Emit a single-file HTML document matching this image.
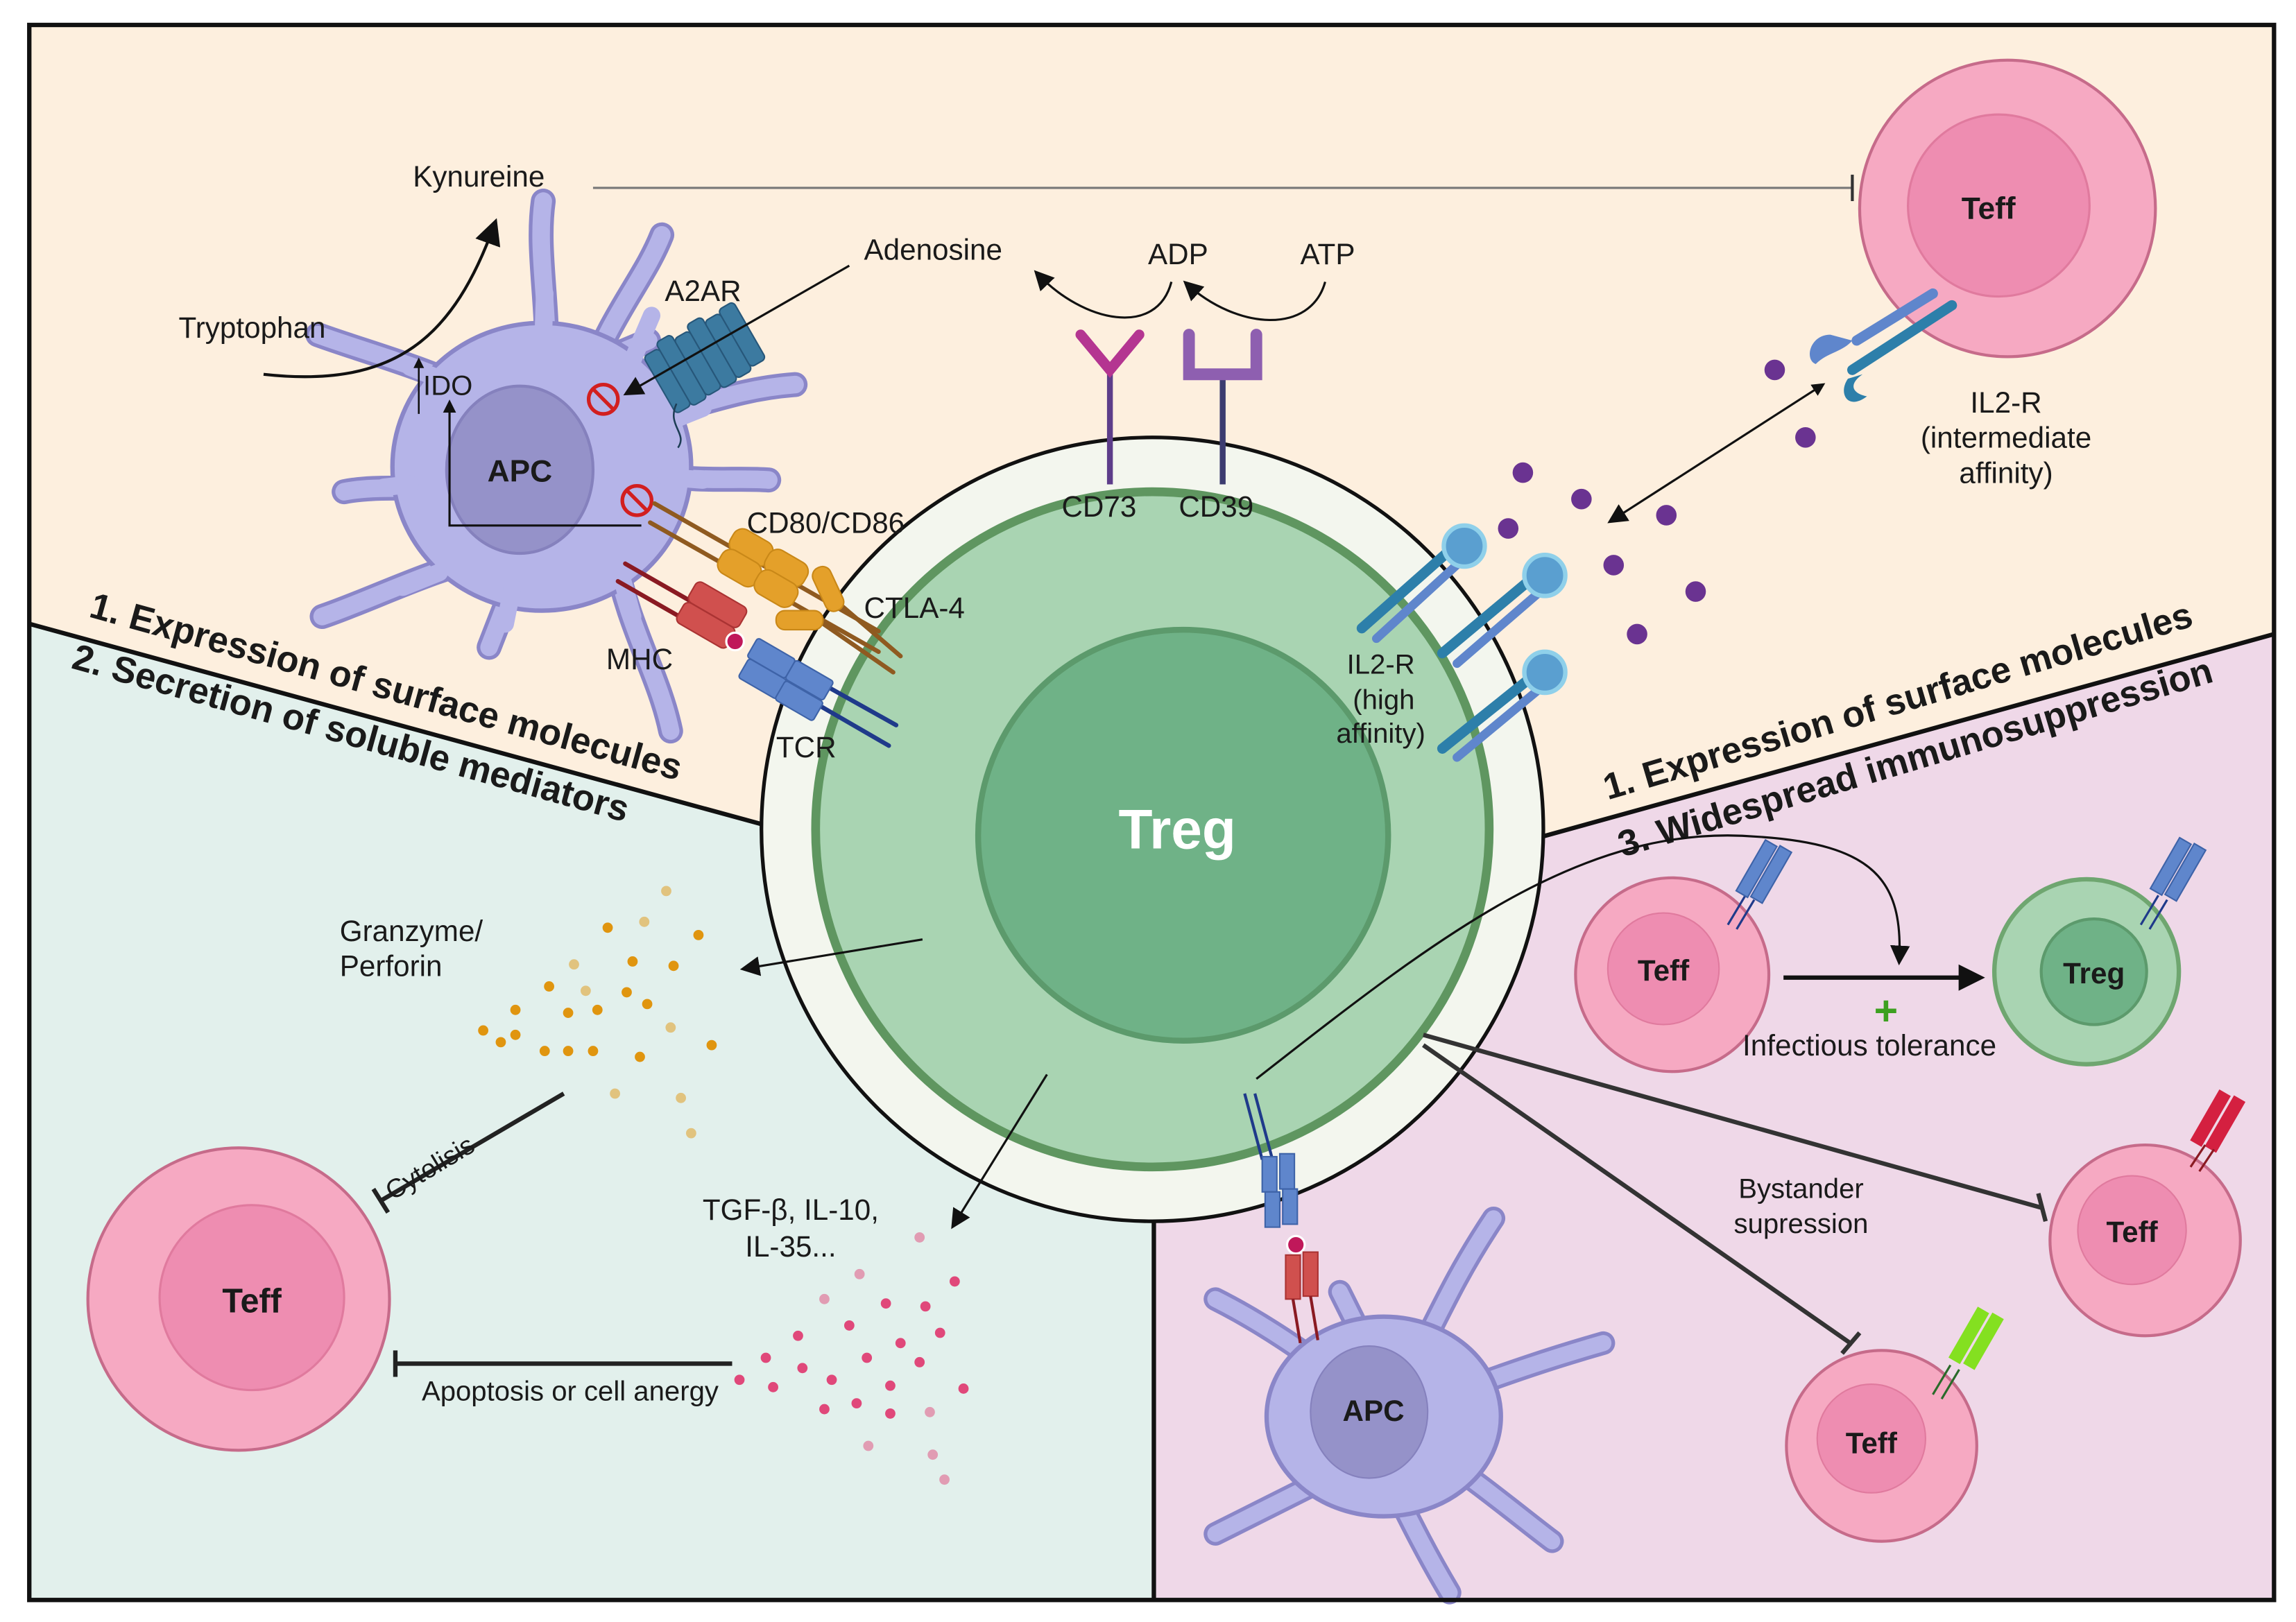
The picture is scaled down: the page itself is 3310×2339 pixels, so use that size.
<!DOCTYPE html>
<html><head><meta charset="utf-8"><style>
html,body{margin:0;padding:0;background:#fff;}
svg{display:block;}
text{font-family:"Liberation Sans",sans-serif;fill:#1a1a1a;}
.b{font-weight:bold;}
</style></head><body>
<svg width="3310" height="2339" viewBox="0 0 1568 1105" preserveAspectRatio="none" xmlns="http://www.w3.org/2000/svg">
<defs>
<marker id="ah" viewBox="0 0 10 10" refX="8" refY="5" markerWidth="6" markerHeight="6" orient="auto-start-reverse"><path d="M0,0 L10,5 L0,10 z" fill="#111"/></marker>
<marker id="ahs" viewBox="0 0 10 10" refX="8" refY="5" markerWidth="9" markerHeight="9" orient="auto-start-reverse"><path d="M0,0 L10,5 L0,10 z" fill="#111"/></marker>
</defs>
<rect width="1568" height="1105" fill="#fff"/>
<rect x="20" y="17" width="1533" height="1073" fill="#fdefde"/>
<polygon points="20,425 522,562 788,815 788,1090 20,1090" fill="#e2f0ec"/>
<polygon points="1553,432 1053,570 788,815 788,1090 1553,1090" fill="#efd8e8"/>
<line x1="20" y1="425" x2="522" y2="562" stroke="#111" stroke-width="3"/>
<line x1="1553" y1="432" x2="1053" y2="570" stroke="#111" stroke-width="3"/>
<line x1="788" y1="815" x2="788" y2="1090" stroke="#111" stroke-width="3"/>

<!-- APC 1 -->
<g stroke-linecap="round" fill="none">
<g stroke="#8a86c8" stroke-width="17">
<path d="M370,300 C380,220 365,180 371,137 M400,260 C420,210 440,190 452,160 M420,290 C470,280 500,265 543,262 M440,320 C470,330 500,325 525,327 M330,270 C290,250 250,240 217,228 M320,330 C290,335 260,330 235,335 M330,380 C290,390 250,410 220,420 M350,400 L334,441 M420,380 C430,430 450,460 458,498 M400,250 L443,232"/>
</g>
<g stroke="#b5b4e8" stroke-width="12">
<path d="M370,300 C380,220 365,180 371,137 M400,260 C420,210 440,190 452,160 M420,290 C470,280 500,265 543,262 M440,320 C470,330 500,325 525,327 M330,270 C290,250 250,240 217,228 M320,330 C290,335 260,330 235,335 M330,380 C290,390 250,410 220,420 M350,400 L334,441 M420,380 C430,430 450,460 458,498 M400,250 L443,232"/>
</g>
</g>
<ellipse cx="370" cy="318" rx="102" ry="98" fill="#b5b4e8" stroke="#8a86c8" stroke-width="3"/>
<g stroke="#b5b4e8" stroke-width="12" stroke-linecap="round" fill="none"><path d="M370,260 L372,200 M430,250 L445,215 M450,290 L480,278 M455,325 L480,327 M310,262 L280,250 M280,330 L262,332 M300,390 L275,400 M350,400 L345,425 M425,395 L432,420"/></g>
<ellipse cx="355" cy="320" rx="50" ry="57" fill="#9592c9" stroke="#8581bd" stroke-width="2"/>
<text x="355" y="328" font-size="21" text-anchor="middle" class="b">APC</text>

<text x="282" y="127" font-size="20">Kynureine</text>
<line x1="405" y1="128" x2="1265" y2="128" stroke="#777" stroke-width="1.5"/>
<line x1="1265" y1="119" x2="1265" y2="137" stroke="#333" stroke-width="2"/>
<text x="122" y="230" font-size="20">Tryptophan</text>
<path d="M180,255 C270,265 310,230 338,152" fill="none" stroke="#111" stroke-width="2" marker-end="url(#ahs)"/>
<text x="289" y="269" font-size="19">IDO</text>
<line x1="286" y1="282" x2="286" y2="245" stroke="#111" stroke-width="1.2" marker-end="url(#ah)"/>
<path d="M438,358 L307,358 L307,274" fill="none" stroke="#111" stroke-width="1.5" marker-end="url(#ah)"/>
<circle cx="412" cy="272" r="10" fill="none" stroke="#d21f1f" stroke-width="2.5"/><line x1="405" y1="265" x2="419" y2="279" stroke="#d21f1f" stroke-width="2.5"/>
<circle cx="435" cy="341" r="10" fill="none" stroke="#d21f1f" stroke-width="2.5"/><line x1="428" y1="334" x2="442" y2="348" stroke="#d21f1f" stroke-width="2.5"/>

<text x="454" y="205" font-size="20">A2AR</text>
<g transform="rotate(-30 482 245)" fill="#3c7aa0" stroke="#27577a" stroke-width="1">
<rect x="446" y="222" width="12" height="45" rx="3"/><rect x="458" y="218" width="12" height="50" rx="3"/><rect x="470" y="222" width="12" height="45" rx="3"/><rect x="482" y="218" width="12" height="50" rx="3"/><rect x="494" y="222" width="12" height="45" rx="3"/><rect x="506" y="220" width="12" height="45" rx="3"/>
</g>
<path d="M462,275 C455,290 470,295 463,305" fill="none" stroke="#1d3d55" stroke-width="1.2"/>
<text x="590" y="177" font-size="20">Adenosine</text>
<line x1="580" y1="181" x2="428" y2="268" stroke="#111" stroke-width="1.5" marker-end="url(#ahs)"/>

<circle cx="787" cy="565" r="267" fill="#f3f6ee" stroke="#111" stroke-width="2.5"/>
<circle cx="787" cy="565" r="230" fill="#a9d4b2" stroke="#5f9660" stroke-width="6"/>
<circle cx="808" cy="569" r="140" fill="#6fb287" stroke="#5c9a6c" stroke-width="4"/>
<text x="804" y="578" font-size="38" text-anchor="middle" class="b" style="fill:#fff">Treg</text>

<g stroke-linecap="round">
<line x1="447" y1="343" x2="600" y2="430" stroke="#8f5a20" stroke-width="3"/>
<line x1="444" y1="356" x2="600" y2="444" stroke="#8f5a20" stroke-width="3"/>
<line x1="560" y1="400" x2="615" y2="447" stroke="#8f5a20" stroke-width="3"/>
<line x1="555" y1="420" x2="610" y2="458" stroke="#8f5a20" stroke-width="3"/>
<line x1="427" y1="384" x2="490" y2="420" stroke="#8a1a22" stroke-width="3"/>
<line x1="422" y1="396" x2="485" y2="432" stroke="#8a1a22" stroke-width="3"/>
<line x1="560" y1="465" x2="612" y2="494" stroke="#1f3a8a" stroke-width="3"/>
<line x1="555" y1="478" x2="607" y2="508" stroke="#1f3a8a" stroke-width="3"/>
</g>
<g fill="#e4a02a" stroke="#c98818">
<rect x="498" y="364" width="30" height="18" rx="7" transform="rotate(30 513 373)"/>
<rect x="522" y="378" width="30" height="18" rx="7" transform="rotate(30 537 387)"/>
<rect x="490" y="378" width="30" height="18" rx="7" transform="rotate(30 505 387)"/>
<rect x="515" y="392" width="30" height="18" rx="7" transform="rotate(30 530 401)"/>
<rect x="550" y="395" width="32" height="13" rx="6" transform="rotate(65 566 401)"/>
<rect x="530" y="416" width="32" height="13" rx="6"/>
</g>
<g fill="#d0504e" stroke="#a33">
<rect x="470" y="404" width="40" height="16" rx="4" transform="rotate(30 490 412)"/>
<rect x="462" y="418" width="40" height="16" rx="4" transform="rotate(30 482 426)"/>
</g>
<circle cx="502" cy="437" r="6" fill="#c0185a" stroke="#fff" stroke-width="1.5"/>
<g fill="#5f86cc" stroke="#3e63a8">
<rect x="512" y="441" width="30" height="15" rx="2" transform="rotate(30 527 448)"/>
<rect x="538" y="456" width="30" height="15" rx="2" transform="rotate(30 553 463)"/>
<rect x="506" y="455" width="30" height="15" rx="2" transform="rotate(30 521 462)"/>
<rect x="531" y="470" width="30" height="15" rx="2" transform="rotate(30 546 477)"/>
</g>
<text x="510" y="363" font-size="20">CD80/CD86</text>
<text x="590" y="421" font-size="20">CTLA-4</text>
<text x="414" y="456" font-size="20">MHC</text>
<text x="530" y="516" font-size="20">TCR</text>

<line x1="758" y1="250" x2="758" y2="330" stroke="#5d3d8a" stroke-width="4"/>
<path d="M738,228 L758,252 L778,228" fill="none" stroke="#b43591" stroke-width="7" stroke-linecap="round"/>
<line x1="835" y1="255" x2="835" y2="330" stroke="#3c3c70" stroke-width="4"/>
<path d="M812,228 L812,255 L858,255 L858,228" fill="none" stroke="#8e5fb0" stroke-width="8" stroke-linecap="round"/>
<text x="725" y="352" font-size="20">CD73</text>
<text x="805" y="352" font-size="20">CD39</text>
<text x="784" y="180" font-size="20">ADP</text>
<text x="888" y="180" font-size="20">ATP</text>
<path d="M800,192 C790,230 740,220 708,186" fill="none" stroke="#111" stroke-width="1.5" marker-end="url(#ahs)"/>
<path d="M905,192 C895,228 845,225 810,193" fill="none" stroke="#111" stroke-width="1.5" marker-end="url(#ahs)"/>

<circle cx="1371" cy="142" r="101" fill="#f6a9c2" stroke="#c66b8a" stroke-width="2"/>
<circle cx="1365" cy="140" r="62" fill="#ee8db1" stroke="#e07a9e" stroke-width="1.5"/>
<text x="1358" y="149" font-size="21" text-anchor="middle" class="b">Teff</text>
<line x1="1268" y1="232" x2="1320" y2="200" stroke="#5f86cc" stroke-width="7" stroke-linecap="round"/>
<line x1="1265" y1="252" x2="1333" y2="208" stroke="#2d7faa" stroke-width="7" stroke-linecap="round"/>
<path d="M1250,228 C1236,228 1232,245 1240,248 C1248,240 1258,240 1265,232 z" fill="#5f86cc"/>
<path d="M1262,258 C1255,268 1262,280 1275,270 C1265,268 1262,262 1272,255 z" fill="#2d7faa"/>
<text x="1370" y="281" font-size="20" text-anchor="middle">IL2-R</text>
<text x="1370" y="305" font-size="20" text-anchor="middle">(intermediate</text>
<text x="1370" y="329" font-size="20" text-anchor="middle">affinity)</text>
<line x1="1245" y1="262" x2="1100" y2="355" stroke="#111" stroke-width="1.5" marker-start="url(#ah)" marker-end="url(#ahs)"/>
<g fill="#6a3391">
<circle cx="1212" cy="252" r="7"/><circle cx="1233" cy="298" r="7"/><circle cx="1040" cy="322" r="7"/><circle cx="1080" cy="340" r="7"/><circle cx="1138" cy="351" r="7"/><circle cx="1030" cy="360" r="7"/><circle cx="1102" cy="385" r="7"/><circle cx="1158" cy="403" r="7"/><circle cx="1118" cy="432" r="7"/>
</g>
<g stroke-linecap="round">
<g><line x1="930" y1="428" x2="990" y2="375" stroke="#2d7faa" stroke-width="7"/><line x1="940" y1="435" x2="998" y2="382" stroke="#5f86cc" stroke-width="6"/><circle cx="1000" cy="372" r="14" fill="#5a9fd0" stroke="#8fd0ea" stroke-width="3"/></g>
<g><line x1="985" y1="445" x2="1045" y2="395" stroke="#2d7faa" stroke-width="7"/><line x1="995" y1="452" x2="1053" y2="402" stroke="#5f86cc" stroke-width="6"/><circle cx="1055" cy="392" r="14" fill="#5a9fd0" stroke="#8fd0ea" stroke-width="3"/></g>
<g><line x1="985" y1="510" x2="1045" y2="462" stroke="#2d7faa" stroke-width="7"/><line x1="995" y1="516" x2="1053" y2="468" stroke="#5f86cc" stroke-width="6"/><circle cx="1055" cy="458" r="14" fill="#5a9fd0" stroke="#8fd0ea" stroke-width="3"/></g>
</g>
<text x="943" y="459" font-size="19" text-anchor="middle">IL2-R</text>
<text x="945" y="483" font-size="19" text-anchor="middle">(high</text>
<text x="943" y="506" font-size="19" text-anchor="middle">affinity)</text>

<text transform="translate(60,420) rotate(15.5)" font-size="25" class="b">1.  Expression of surface molecules</text>
<text transform="translate(48,455) rotate(15.5)" font-size="25" class="b">2. Secretion of soluble mediators</text>
<text transform="translate(1098,545) rotate(-16.5)" font-size="25" class="b">1.  Expression of surface molecules</text>
<text transform="translate(1108,584) rotate(-16.5)" font-size="25" class="b">3. Widespread immunosuppression</text>

<text x="232" y="641" font-size="20">Granzyme/</text>
<text x="232" y="665" font-size="20">Perforin</text>
<line x1="630" y1="640" x2="508" y2="660" stroke="#111" stroke-width="1.5" marker-end="url(#ahs)"/>
<g fill="#e0950f">
<circle cx="455" cy="607" r="3.5" opacity=".5"/><circle cx="415" cy="632" r="3.5"/><circle cx="440" cy="628" r="3.5" opacity=".5"/><circle cx="477" cy="637" r="3.5"/><circle cx="392" cy="657" r="3.5" opacity=".5"/><circle cx="432" cy="655" r="3.5"/><circle cx="460" cy="658" r="3.5"/><circle cx="375" cy="672" r="3.5"/><circle cx="400" cy="675" r="3.5" opacity=".5"/><circle cx="428" cy="676" r="3.5"/><circle cx="352" cy="688" r="3.5"/><circle cx="388" cy="690" r="3.5"/><circle cx="408" cy="688" r="3.5"/><circle cx="442" cy="684" r="3.5"/><circle cx="330" cy="702" r="3.5"/><circle cx="352" cy="705" r="3.5"/><circle cx="372" cy="716" r="3.5"/><circle cx="388" cy="716" r="3.5"/><circle cx="405" cy="716" r="3.5"/><circle cx="437" cy="720" r="3.5"/><circle cx="486" cy="712" r="3.5"/><circle cx="458" cy="700" r="3.5" opacity=".5"/><circle cx="420" cy="745" r="3.5" opacity=".5"/><circle cx="465" cy="748" r="3.5" opacity=".5"/><circle cx="472" cy="772" r="3.5" opacity=".5"/><circle cx="342" cy="710" r="3.5"/>
</g>
<circle cx="163" cy="885" r="103" fill="#f6a9c2" stroke="#c66b8a" stroke-width="2"/>
<circle cx="172" cy="884" r="63" fill="#ee8db1" stroke="#e07a9e" stroke-width="1.5"/>
<text x="172" y="894" font-size="23" text-anchor="middle" class="b">Teff</text>
<line x1="385" y1="745" x2="260" y2="818" stroke="#222" stroke-width="3"/>
<line x1="255" y1="810" x2="265" y2="826" stroke="#222" stroke-width="3"/>
<text transform="translate(268,818) rotate(-31)" font-size="18">Cytolisis</text>
<text x="540" y="831" font-size="20" text-anchor="middle">TGF-β, IL-10,</text>
<text x="540" y="856" font-size="20" text-anchor="middle">IL-35...</text>
<line x1="715" y1="732" x2="651" y2="835" stroke="#111" stroke-width="1.5" marker-end="url(#ahs)"/>
<g fill="#e0487a">
<circle cx="628" cy="843" r="3.5" opacity=".5"/><circle cx="587" cy="868" r="3.5" opacity=".5"/><circle cx="652" cy="873" r="3.5"/><circle cx="563" cy="885" r="3.5" opacity=".5"/><circle cx="605" cy="888" r="3.5"/><circle cx="632" cy="890" r="3.5"/><circle cx="545" cy="910" r="3.5"/><circle cx="580" cy="903" r="3.5"/><circle cx="615" cy="915" r="3.5"/><circle cx="642" cy="908" r="3.5"/><circle cx="523" cy="925" r="3.5"/><circle cx="548" cy="932" r="3.5"/><circle cx="592" cy="925" r="3.5"/><circle cx="628" cy="928" r="3.5"/><circle cx="505" cy="940" r="3.5"/><circle cx="528" cy="945" r="3.5"/><circle cx="568" cy="940" r="3.5"/><circle cx="608" cy="944" r="3.5"/><circle cx="658" cy="946" r="3.5"/><circle cx="563" cy="960" r="3.5"/><circle cx="585" cy="956" r="3.5"/><circle cx="608" cy="963" r="3.5"/><circle cx="635" cy="962" r="3.5" opacity=".5"/><circle cx="593" cy="985" r="3.5" opacity=".5"/><circle cx="637" cy="991" r="3.5" opacity=".5"/><circle cx="645" cy="1008" r="3.5" opacity=".5"/>
</g>
<line x1="500" y1="929" x2="270" y2="929" stroke="#222" stroke-width="3"/>
<line x1="270" y1="920" x2="270" y2="938" stroke="#222" stroke-width="3"/>
<text x="288" y="954" font-size="19">Apoptosis or cell anergy</text>

<path d="M858,735 C980,640 1080,560 1200,570 C1280,575 1300,600 1297,655" fill="none" stroke="#111" stroke-width="1.5" marker-end="url(#ahs)"/>
<circle cx="1142" cy="664" r="66" fill="#f6a9c2" stroke="#c66b8a" stroke-width="2"/>
<circle cx="1136" cy="660" r="38" fill="#ee8db1" stroke="#e07a9e"/>
<text x="1136" y="668" font-size="20" text-anchor="middle" class="b">Teff</text>
<circle cx="1425" cy="662" r="63" fill="#a9d4b2" stroke="#6fa670" stroke-width="3"/>
<circle cx="1430" cy="662" r="36" fill="#6fb287" stroke="#5c9a6c" stroke-width="2"/>
<text x="1430" y="670" font-size="20" text-anchor="middle" class="b">Treg</text>
<line x1="1218" y1="666" x2="1352" y2="666" stroke="#111" stroke-width="3" marker-end="url(#ah)"/>
<text x="1288" y="698" font-size="28" text-anchor="middle" class="b" style="fill:#3da020">+</text>
<text x="1190" y="719" font-size="20">Infectious tolerance</text>
<g stroke="#1f3a8a" stroke-width="1.5"><line x1="1180" y1="630" x2="1192" y2="610"/><line x1="1186" y1="633" x2="1198" y2="613"/><line x1="1462" y1="630" x2="1474" y2="610"/><line x1="1468" y1="633" x2="1480" y2="613"/></g>
<g fill="#5f86cc" stroke="#3e63a8"><rect x="1195" y="572" width="9" height="40" transform="rotate(30 1200 592)"/><rect x="1205" y="576" width="9" height="40" transform="rotate(30 1210 596)"/><rect x="1478" y="570" width="9" height="40" transform="rotate(30 1482 590)"/><rect x="1488" y="574" width="9" height="40" transform="rotate(30 1492 594)"/></g>
<circle cx="1465" cy="845" r="65" fill="#f6a9c2" stroke="#c66b8a" stroke-width="2"/>
<circle cx="1456" cy="838" r="37" fill="#ee8db1" stroke="#e07a9e"/>
<text x="1456" y="846" font-size="20" text-anchor="middle" class="b">Teff</text>
<g fill="#d42040"><rect x="1505" y="742" width="9" height="40" transform="rotate(30 1510 762)"/><rect x="1515" y="746" width="9" height="40" transform="rotate(30 1520 766)"/></g>
<g stroke="#8a1a22" stroke-width="1.5"><line x1="1496" y1="795" x2="1506" y2="780"/><line x1="1502" y1="798" x2="1512" y2="783"/></g>
<circle cx="1285" cy="985" r="65" fill="#f6a9c2" stroke="#c66b8a" stroke-width="2"/>
<circle cx="1278" cy="980" r="37" fill="#ee8db1" stroke="#e07a9e"/>
<text x="1278" y="990" font-size="20" text-anchor="middle" class="b">Teff</text>
<g fill="#84e020"><rect x="1340" y="890" width="9" height="40" transform="rotate(30 1345 910)"/><rect x="1350" y="894" width="9" height="40" transform="rotate(30 1355 914)"/></g>
<g stroke="#2a6a2a" stroke-width="1.5"><line x1="1320" y1="950" x2="1332" y2="930"/><line x1="1326" y1="953" x2="1338" y2="933"/></g>
<line x1="972" y1="705" x2="1395" y2="823" stroke="#333" stroke-width="3"/>
<line x1="1392" y1="813" x2="1397" y2="832" stroke="#333" stroke-width="3"/>
<line x1="972" y1="712" x2="1265" y2="916" stroke="#333" stroke-width="3"/>
<line x1="1258" y1="922" x2="1270" y2="908" stroke="#333" stroke-width="3"/>
<text x="1230" y="816" font-size="19" text-anchor="middle">Bystander</text>
<text x="1230" y="840" font-size="19" text-anchor="middle">supression</text>

<g stroke-linecap="round" fill="none">
<g stroke="#8a86c8" stroke-width="16"><path d="M930,950 C890,920 860,900 830,885 M940,930 L915,880 M970,920 C990,880 1000,860 1020,830 M990,950 C1030,935 1060,925 1095,915 M980,990 C1010,1010 1040,1035 1060,1050 M920,1000 C880,1020 850,1035 830,1045 M950,1010 C965,1040 975,1060 990,1085"/></g>
<g stroke="#b5b4e8" stroke-width="11"><path d="M930,950 C890,920 860,900 830,885 M940,930 L915,880 M970,920 C990,880 1000,860 1020,830 M990,950 C1030,935 1060,925 1095,915 M980,990 C1010,1010 1040,1035 1060,1050 M920,1000 C880,1020 850,1035 830,1045 M950,1010 C965,1040 975,1060 990,1085"/></g>
</g>
<ellipse cx="945" cy="965" rx="80" ry="68" fill="#b5b4e8" stroke="#8a86c8" stroke-width="3"/>
<ellipse cx="935" cy="962" rx="40" ry="45" fill="#9592c9" stroke="#8581bd"/>
<text x="938" y="968" font-size="20" text-anchor="middle" class="b">APC</text>
<g stroke="#1f3a8a" stroke-width="2"><line x1="850" y1="745" x2="862" y2="790"/><line x1="857" y1="745" x2="869" y2="790"/></g>
<g fill="#5f86cc" stroke="#3e63a8"><rect x="862" y="788" width="10" height="24"/><rect x="874" y="786" width="10" height="24"/><rect x="864" y="812" width="10" height="24"/><rect x="876" y="810" width="10" height="24"/></g>
<circle cx="885" cy="848" r="6" fill="#c0185a" stroke="#fff" stroke-width="1.5"/>
<g fill="#d0504e" stroke="#a33"><rect x="878" y="855" width="10" height="30"/><rect x="890" y="853" width="10" height="30"/></g>
<g stroke="#8a1a22" stroke-width="2"><line x1="883" y1="885" x2="888" y2="915"/><line x1="895" y1="883" x2="900" y2="913"/></g>

<rect x="20" y="17" width="1533" height="1073" fill="none" stroke="#111" stroke-width="3"/>
</svg>
</body></html>
